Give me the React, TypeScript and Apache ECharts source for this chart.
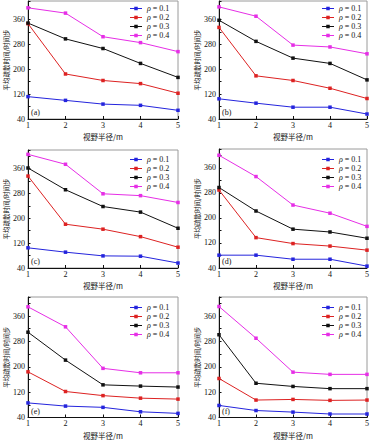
import React, { useEffect, useRef } from "react";
import * as echarts from "echarts";

const X_VALUES = [1, 2, 3, 4, 5];
const RHO = ["0.1", "0.2", "0.3", "0.4"];
const COLORS = ["#2424dd", "#dd2222", "#111111", "#e62ee6"];
const PANEL_LABELS = ["(a)", "(b)", "(c)", "(d)", "(e)", "(f)"];
const X_TITLE = "视野半径/m";
const Y_TITLE = "平均疏散时间/时间步";
const Y_LABELS = [40, 120, 200, 280, 360];

const panelA_rho01 = [112, 100, 88, 84, 68];
const panelA_rho02 = [347, 185, 164, 154, 123];
const panelA_rho03 = [349, 298, 267, 219, 174];
const panelA_rho04 = [398, 381, 305, 286, 257];

const panelB_rho01 = [105, 91, 78, 78, 56];
const panelB_rho02 = [335, 179, 164, 139, 106];
const panelB_rho03 = [358, 290, 236, 219, 166];
const panelB_rho04 = [401, 371, 278, 272, 250];

const panelC_rho01 = [105, 91, 79, 78, 56];
const panelC_rho02 = [336, 181, 165, 141, 107];
const panelC_rho03 = [362, 292, 238, 220, 168];
const panelC_rho04 = [406, 374, 279, 273, 251];

const panelD_rho01 = [81, 81, 68, 68, 46];
const panelD_rho02 = [289, 137, 118, 110, 97];
const panelD_rho03 = [297, 222, 164, 155, 135];
const panelD_rho04 = [400, 332, 241, 215, 173];

const panelE_rho01 = [86, 76, 72, 58, 53];
const panelE_rho02 = [184, 122, 109, 101, 98];
const panelE_rho03 = [309, 221, 143, 139, 136];
const panelE_rho04 = [389, 326, 195, 181, 181];

const panelF_rho01 = [78, 62, 57, 51, 51];
const panelF_rho02 = [163, 95, 97, 94, 95];
const panelF_rho03 = [301, 148, 138, 131, 131];
const panelF_rho04 = [390, 290, 183, 176, 176];

const PANELS = [
  [panelA_rho01, panelA_rho02, panelA_rho03, panelA_rho04],
  [panelB_rho01, panelB_rho02, panelB_rho03, panelB_rho04],
  [panelC_rho01, panelC_rho02, panelC_rho03, panelC_rho04],
  [panelD_rho01, panelD_rho02, panelD_rho03, panelD_rho04],
  [panelE_rho01, panelE_rho02, panelE_rho03, panelE_rho04],
  [panelF_rho01, panelF_rho02, panelF_rho03, panelF_rho04],
];

const GRIDS = [
  { left: 28, top: 1, width: 150, height: 118 },
  { left: 219, top: 1, width: 150, height: 118 },
  { left: 28, top: 150, width: 150, height: 118 },
  { left: 219, top: 149, width: 150, height: 119 },
  { left: 28, top: 297, width: 150, height: 121 },
  { left: 219, top: 297, width: 150, height: 121 },
];

const SERIF = "'Liberation Serif', 'DejaVu Serif', serif";
const CJK = "'Noto Sans CJK SC', sans-serif";
const LEGEND_ICON =
  "path://M0,1.3 L12,1.3 L12,2.2 L0,2.2 Z M4.25,0 L7.75,0 L7.75,3.5 L4.25,3.5 Z";

export default function App() {
  const ref = useRef<HTMLDivElement>(null);
  useEffect(() => {
    if (!ref.current) return;
    const chart = echarts.init(ref.current, null, { renderer: "svg" });
    const grid = GRIDS.map((g) => ({
      ...g,
      show: true,
      borderColor: "#9a9a9a",
      borderWidth: 1,
      containLabel: false,
    }));
    const xAxis = GRIDS.map((_, i) => ({
      type: "value",
      gridIndex: i,
      min: 1,
      max: 5,
      interval: 1,
      name: X_TITLE,
      nameLocation: "middle",
      nameGap: 14,
      nameTextStyle: { fontFamily: CJK, fontSize: 7.5, color: "#111" },
      axisLine: { show: true, lineStyle: { color: "#111", width: 1 } },
      axisTick: { show: true, inside: true, length: 3, lineStyle: { color: "#111" } },
      axisLabel: { fontFamily: SERIF, fontSize: 8, color: "#111", margin: 2 },
      splitLine: { show: false },
    }));
    const yAxis = GRIDS.map((_, i) => ({
      type: "value",
      gridIndex: i,
      min: 40,
      max: 420,
      interval: 40,
      name: Y_TITLE,
      nameLocation: "middle",
      nameGap: 19,
      nameTextStyle: { fontFamily: CJK, fontSize: 6.5, color: "#111" },
      axisLine: { show: true, lineStyle: { color: "#111", width: 1 } },
      axisTick: { show: true, inside: true, length: 2.5, lineStyle: { color: "#111" } },
      axisLabel: {
        fontFamily: SERIF,
        fontSize: 8,
        color: "#111",
        margin: 3,
        formatter: (v: number) => (Y_LABELS.includes(v) ? String(v) : ""),
      },
      splitLine: { show: false },
    }));
    const series: any[] = [];
    PANELS.forEach((panel, p) => {
      panel.forEach((vals, k) => {
        series.push({
          type: "line",
          name: RHO[k],
          xAxisIndex: p,
          yAxisIndex: p,
          data: X_VALUES.map((x, j) => [x, vals[j]]),
          symbol: "rect",
          symbolSize: 3.5,
          itemStyle: { color: COLORS[k] },
          lineStyle: { color: COLORS[k], width: 1 },
        });
      });
    });
    const legendPos = [
      { left: 130, top: 4 },
      { left: 322, top: 4 },
      { left: 130, top: 155 },
      { left: 322, top: 155 },
      { left: 130, top: 303 },
      { left: 322, top: 303 },
    ];
    const legend = legendPos.map((pos) => ({
      ...pos,
      orient: "vertical",
      padding: 0,
      itemGap: 0,
      itemWidth: 12,
      itemHeight: 3.5,
      icon: LEGEND_ICON,
      data: RHO,
      selectedMode: false,
      formatter: (n: string) => `{i|ρ}{n| = ${n}}`,
      textStyle: {
        fontFamily: SERIF,
        fontSize: 8,
        lineHeight: 9,
        color: "#111",
        rich: {
          i: { fontFamily: SERIF, fontStyle: "italic", fontSize: 8, lineHeight: 9 },
          n: { fontFamily: SERIF, fontSize: 8, lineHeight: 9 },
        },
      },
    }));
    const graphic = GRIDS.map((g, i) => ({
      type: "text",
      left: g.left + 3,
      top: g.top + g.height - 11,
      style: {
        text: PANEL_LABELS[i],
        font: `8px ${SERIF}`,
        fill: "#111",
      },
    }));
    chart.setOption({
      animation: false,
      backgroundColor: "#ffffff",
      grid,
      xAxis,
      yAxis,
      series,
      legend,
      graphic,
    });
    return () => chart.dispose();
  }, []);
  return (
    <div
      ref={ref}
      style={{ position: "fixed", left: 0, top: 0, width: 372, height: 440 }}
    />
  );
}
